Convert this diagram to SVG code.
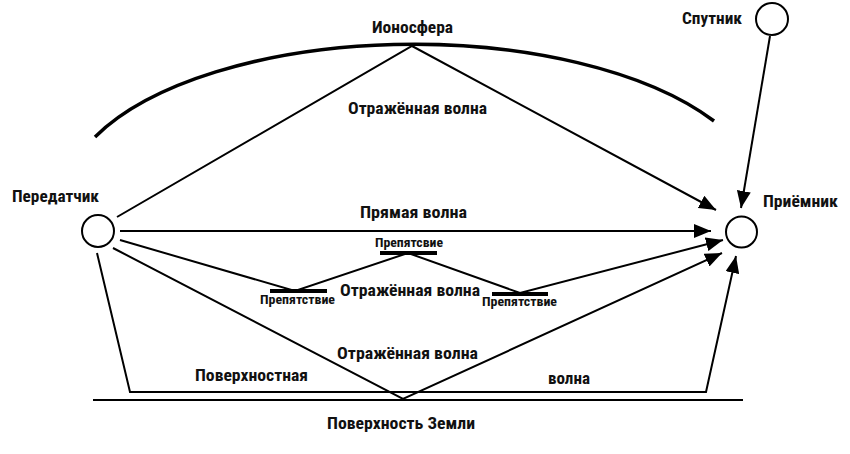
<svg xmlns="http://www.w3.org/2000/svg" width="850" height="454" viewBox="0 0 850 454">
<defs>
<marker id="arr" markerUnits="userSpaceOnUse" markerWidth="18" markerHeight="14" refX="17" refY="7" orient="auto">
<path d="M0,0 L17,7 L0,14 z" fill="#000"/>
</marker>
<style>
.t{font-family:"Roboto Condensed","DejaVu Sans Condensed",Roboto,"Liberation Sans",sans-serif;font-weight:bold;fill:#111;}
.l{font-size:16px;}
.s{font-size:12px;}
.w{fill:none;stroke:#000;stroke-width:2;}
.a{marker-end:url(#arr);}
.bar{stroke:#000;stroke-width:4;}
.node{fill:#fff;stroke:#000;stroke-width:2;}
</style>
</defs>
<rect width="850" height="454" fill="#fff"/>

<g id="ionosphere">
<path d="M95,137 A350,158 0 0 1 714,121" fill="none" stroke="#000" stroke-width="3.5"/>
<text class="t l" x="372" y="33" textLength="81" lengthAdjust="spacingAndGlyphs">Ионосфера</text>
</g>

<g id="ground">
<line x1="93" y1="400" x2="743" y2="400" stroke="#000" stroke-width="2"/>
<text class="t l" x="327" y="429" textLength="148" lengthAdjust="spacingAndGlyphs">Поверхность Земли</text>
</g>

<g id="obstacles">
<line class="bar" x1="270" y1="291" x2="327" y2="291"/>
<line class="bar" x1="380" y1="253" x2="437" y2="253"/>
<line class="bar" x1="492" y1="294" x2="548" y2="294"/>
<text class="t s" x="260" y="304" textLength="75" lengthAdjust="spacingAndGlyphs">Препятствие</text>
<text class="t s" x="375" y="247" textLength="68" lengthAdjust="spacingAndGlyphs">Препятсвие</text>
<text class="t s" x="482" y="306" textLength="75" lengthAdjust="spacingAndGlyphs">Препятствие</text>
</g>

<g id="connectors">
<polyline class="w a" points="117,217 412,46 716,210"/>
<line class="w a" x1="120" y1="231" x2="711" y2="231"/>
<polyline class="w a" points="120,240 295,291 408,253 520,293 723,240"/>
<polyline class="w a" points="113,248 403,399 722,253"/>
<polyline class="w a" points="97,253 130,392 706,392 736,256"/>
<line class="w a" x1="770" y1="36" x2="741" y2="208"/>
</g>

<g id="labels">
<text class="t l" x="348" y="114" textLength="139" lengthAdjust="spacingAndGlyphs">Отражённая волна</text>
<text class="t l" x="360" y="218" textLength="107" lengthAdjust="spacingAndGlyphs">Прямая волна</text>
<text class="t l" x="340" y="296" textLength="140" lengthAdjust="spacingAndGlyphs">Отражённая волна</text>
<text class="t l" x="337" y="359" textLength="141" lengthAdjust="spacingAndGlyphs">Отражённая волна</text>
<text class="t l" x="195" y="381" textLength="113" lengthAdjust="spacingAndGlyphs">Поверхностная</text>
<text class="t l" x="548" y="384" textLength="42" lengthAdjust="spacingAndGlyphs">волна</text>
</g>

<g id="transmitter">
<circle class="node" cx="98" cy="231" r="16"/>
<text class="t l" x="12" y="202" textLength="87" lengthAdjust="spacingAndGlyphs">Передатчик</text>
</g>

<g id="receiver">
<circle class="node" cx="741.5" cy="232" r="15.5"/>
<text class="t l" x="763" y="207" textLength="75" lengthAdjust="spacingAndGlyphs">Приёмник</text>
</g>

<g id="satellite">
<circle class="node" cx="772" cy="19" r="16"/>
<text class="t l" x="682" y="24" textLength="60" lengthAdjust="spacingAndGlyphs">Спутник</text>
</g>
</svg>
